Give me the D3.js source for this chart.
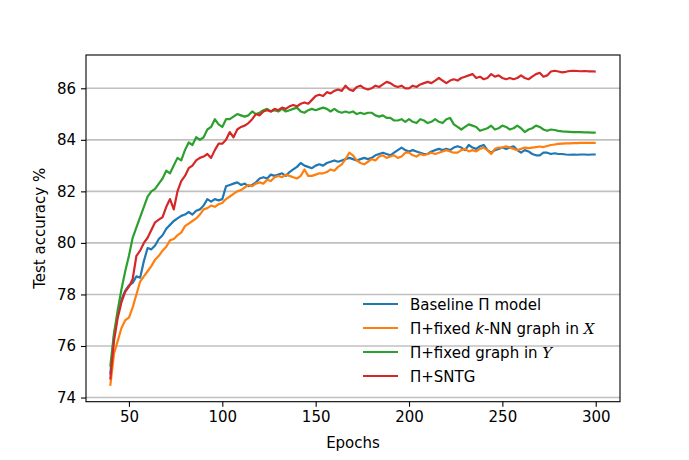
<!DOCTYPE html>
<html>
<head>
<meta charset="utf-8">
<script src="https://cdn.jsdelivr.net/npm/d3@7"></script>
<style>
  body { margin: 0; background: #fff; }
  svg { font-family: "DejaVu Sans", sans-serif; }
</style>
</head>
<body>
<svg></svg>
<script>
const size = { w: 689, h: 460 };
const box = { l: 86, r: 620, t: 55, b: 401.7 };

// test accuracy, one value every 2 epochs (40, 42, ... 300)
const epochs = d3.range(40, 301, 2);

const baseline = [
	74.9, 76.4, 77.2, 77.8, 78.15, 78.35, 78.45, 78.7, 78.65, 79.3,
	79.8, 79.75, 79.9, 80.15, 80.3, 80.55, 80.7, 80.85, 80.95, 81.05,
	81.1, 81.2, 81.1, 81.25, 81.3, 81.45, 81.7, 81.6, 81.7, 81.65,
	81.7, 82.2, 82.25, 82.3, 82.35, 82.25, 82.3, 82.2, 82.25, 82.35,
	82.5, 82.55, 82.5, 82.65, 82.6, 82.65, 82.7, 82.6, 82.75, 82.85,
	82.95, 83.1, 83.0, 82.95, 82.9, 83.0, 83.05, 83.0, 83.1, 83.15,
	83.2, 83.15, 83.2, 83.25, 83.3, 83.25, 83.2, 83.25, 83.3, 83.25,
	83.3, 83.4, 83.45, 83.5, 83.45, 83.4, 83.5, 83.6, 83.7, 83.6,
	83.55, 83.6, 83.55, 83.5, 83.45, 83.45, 83.55, 83.6, 83.65, 83.6,
	83.65, 83.6, 83.7, 83.75, 83.7, 83.6, 83.8, 83.7, 83.65, 83.75,
	83.8, 83.6, 83.5, 83.6, 83.65, 83.7, 83.65, 83.7, 83.75, 83.6,
	83.5, 83.6, 83.55, 83.45, 83.4, 83.4, 83.5, 83.5, 83.45, 83.48,
	83.45, 83.45, 83.43, 83.42, 83.43, 83.42, 83.43, 83.43, 83.42, 83.43,
	83.43
];
const knnX = [
	74.45, 75.7, 76.2, 76.7, 77.0, 77.1, 77.5, 78.0, 78.5, 78.7,
	78.9, 79.1, 79.35, 79.5, 79.7, 79.85, 80.1, 80.15, 80.3, 80.4,
	80.65, 80.75, 80.85, 80.95, 81.1, 81.3, 81.35, 81.45, 81.4, 81.5,
	81.55, 81.7, 81.8, 81.9, 82.0, 82.05, 82.15, 82.25, 82.2, 82.3,
	82.35, 82.3, 82.45, 82.4, 82.55, 82.6, 82.55, 82.65, 82.6, 82.55,
	82.5, 82.6, 82.85, 82.6, 82.6, 82.65, 82.7, 82.7, 82.75, 82.85,
	82.8, 82.95, 83.05, 83.25, 83.5, 83.4, 83.2, 83.1, 83.05, 83.15,
	83.25, 83.2, 83.35, 83.4, 83.3, 83.35, 83.4, 83.3, 83.35, 83.5,
	83.5, 83.4, 83.35, 83.45, 83.4, 83.45, 83.5, 83.45, 83.5, 83.55,
	83.6, 83.55, 83.5, 83.5, 83.6, 83.65, 83.55, 83.6, 83.55, 83.65,
	83.7, 83.6, 83.45, 83.65, 83.7, 83.7, 83.75, 83.7, 83.65, 83.6,
	83.65, 83.7, 83.68, 83.7, 83.72, 83.74, 83.72, 83.76, 83.8, 83.82,
	83.84, 83.85, 83.86, 83.86, 83.87, 83.87, 83.88, 83.88, 83.88, 83.88,
	83.88
];
const fixedY = [
	75.2, 76.5, 77.4, 78.2, 78.9, 79.5, 80.2, 80.6, 81.0, 81.4,
	81.8, 82.0, 82.1, 82.3, 82.5, 82.8, 82.7, 83.0, 83.3, 83.2,
	83.6, 83.9, 83.8, 84.1, 84.0, 84.1, 84.4, 84.5, 84.8, 84.6,
	84.5, 84.8, 84.8, 84.9, 85.0, 84.95, 84.9, 84.95, 85.1, 85.0,
	85.05, 85.15, 85.2, 85.1, 85.15, 85.1, 85.2, 85.1, 85.15, 85.2,
	85.25, 85.1, 85.05, 85.15, 85.2, 85.15, 85.2, 85.25, 85.2, 85.1,
	85.2, 85.1, 85.05, 85.1, 85.05, 85.1, 85.0, 85.05, 85.0, 85.05,
	85.05, 84.95, 84.9, 84.95, 84.85, 84.85, 84.75, 84.75, 84.8, 84.7,
	84.8, 84.7, 84.65, 84.8, 84.75, 84.65, 84.7, 84.8, 84.7, 84.65,
	84.8, 84.85, 84.6, 84.5, 84.4, 84.5, 84.6, 84.55, 84.5, 84.35,
	84.4, 84.45, 84.55, 84.4, 84.45, 84.55, 84.5, 84.4, 84.45, 84.55,
	84.45, 84.3, 84.4, 84.45, 84.55, 84.5, 84.4, 84.35, 84.4, 84.38,
	84.35, 84.33, 84.32, 84.31, 84.3, 84.3, 84.3, 84.29, 84.29, 84.28,
	84.28
];
const sntg = [
	74.7, 76.2, 77.1, 77.7, 78.1, 78.3, 78.6, 79.5, 79.7, 80.0,
	80.2, 80.5, 80.8, 80.9, 81.0, 81.4, 81.7, 81.3, 82.0, 82.4,
	82.6, 82.9, 83.0, 83.2, 83.3, 83.35, 83.45, 83.3, 83.6, 83.85,
	83.85, 84.0, 84.3, 84.1, 84.4, 84.5, 84.55, 84.65, 84.8, 85.0,
	84.95, 85.1, 85.15, 85.1, 85.2, 85.15, 85.25, 85.2, 85.3, 85.35,
	85.3, 85.4, 85.45, 85.4, 85.55, 85.7, 85.75, 85.7, 85.85, 85.8,
	85.9, 85.95, 85.9, 86.1, 85.95, 85.9, 86.05, 86.1, 86.0, 85.95,
	86.0, 86.1, 86.05, 86.15, 86.25, 86.2, 86.1, 86.05, 86.1, 86.0,
	86.0, 86.1, 86.05, 86.15, 86.2, 86.25, 86.2, 86.3, 86.4, 86.3,
	86.2, 86.3, 86.35, 86.3, 86.4, 86.45, 86.5, 86.55, 86.4, 86.45,
	86.35, 86.4, 86.55, 86.45, 86.5, 86.4, 86.35, 86.4, 86.35, 86.4,
	86.5, 86.4, 86.35, 86.45, 86.55, 86.6, 86.45, 86.5, 86.65, 86.68,
	86.65, 86.62, 86.64, 86.67, 86.68, 86.67, 86.66, 86.67, 86.66, 86.66,
	86.65
];

const series = [
	{ values: baseline, color: "#1f77b4", label: ["Baseline \u03a0 model"] },
	{ values: knnX, color: "#ff7f0e", label: ["\u03a0+fixed ", "k", "-NN graph in ", "X"] },
	{ values: fixedY, color: "#2ca02c", label: ["\u03a0+fixed graph in ", "Y"] },
	{ values: sntg, color: "#d62728", label: ["\u03a0+SNTG"] },
];

const xTicks = [50, 100, 150, 200, 250, 300];
const yTicks = [74, 76, 78, 80, 82, 84, 86];

const svg = d3.select("svg").attr("width", size.w).attr("height", size.h);

// matplotlib style 5% margins around the data
const allVals = series.flatMap(s => s.values);
const yMin = d3.min(allVals), yMax = d3.max(allVals);
const xPad = (300 - 40) * 0.05, yPad = (yMax - yMin) * 0.05;

const x = d3.scaleLinear().domain([40 - xPad, 300 + xPad]).range([box.l, box.r]);
const y = d3.scaleLinear().domain([yMin - yPad, yMax + yPad]).range([box.b, box.t]);

// horizontal grid
svg.append("g")
	.selectAll("line")
	.data(yTicks)
	.enter()
	.append("line")
	.attr("x1", box.l).attr("x2", box.r)
	.attr("y1", d => y(d)).attr("y2", d => y(d))
	.attr("stroke", "#c0c0c0")
	.attr("stroke-width", 1.6);

let line = d3.line()
	.x((d, i) => x(epochs[i]))
	.y(d => y(d));

svg.append("g")
	.selectAll("path")
	.data(series)
	.enter()
	.append("path")
	.attr("d", d => line(d.values))
	.attr("fill", "none")
	.attr("stroke", d => d.color)
	.attr("stroke-width", 2.2)
	.attr("stroke-linejoin", "round");

// axes
let xAxis = d3.axisBottom(x).tickValues(xTicks).tickSize(5).tickPadding(5);
let yAxis = d3.axisLeft(y).tickValues(yTicks).tickSize(5).tickPadding(5);

let xg = svg.append("g").attr("transform", `translate(0,${box.b})`).call(xAxis);
let yg = svg.append("g").attr("transform", `translate(${box.l},0)`).call(yAxis);
[xg, yg].forEach(g => {
	g.select(".domain").remove();
	g.selectAll("line").attr("stroke", "#000").attr("stroke-width", 1.1);
	g.selectAll("text").attr("font-size", 15).attr("fill", "#000")
		.attr("font-family", "DejaVu Sans");
});

svg.append("rect")
	.attr("x", box.l).attr("y", box.t)
	.attr("width", box.r - box.l).attr("height", box.b - box.t)
	.attr("fill", "none").attr("stroke", "#000").attr("stroke-width", 1.1);

svg.append("text")
	.attr("x", (box.l + box.r) / 2).attr("y", 448)
	.attr("text-anchor", "middle").attr("font-size", 15)
	.text("Epochs");

svg.append("text")
	.attr("transform", `translate(45,${(box.t + box.b) / 2}) rotate(-90)`)
	.attr("text-anchor", "middle").attr("font-size", 15)
	.text("Test accuracy %");

// legend, no frame
let legend = svg.append("g").attr("transform", "translate(363,304)");
series.forEach((s, i) => {
	let row = legend.append("g").attr("transform", `translate(0,${i * 24})`);
	row.append("line")
		.attr("x1", 0).attr("x2", 35)
		.attr("stroke", s.color).attr("stroke-width", 2.2);
	let t = row.append("text").attr("x", 47).attr("y", 5.5).attr("font-size", 15);
	s.label.forEach((part, j) => {
		let ts = t.append("tspan").text(part);
		if (part === "k") ts.attr("font-style", "italic");
		if (j > 0 && (part === "X" || part === "Y")) {
			ts.attr("font-family", "DejaVu Serif").attr("font-style", "italic");
		}
	});
});
</script>
</body>
</html>
